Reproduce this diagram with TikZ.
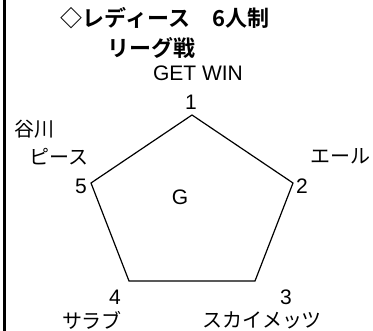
\documentclass[tikz,border=0pt]{standalone}
\usepackage{fontspec}
\setmainfont{Liberation Sans}
\newfontfamily\jp{Noto Sans CJK JP}
\newfontfamily\jpbold{Noto Sans CJK JP Bold}
\usetikzlibrary{positioning}

\begin{document}
\begin{tikzpicture}[x=1pt,y=-1pt,line width=1.2pt,
                    num/.style={inner sep=0pt, font=\fontsize{21}{21}\selectfont},
                    team/.style={inner sep=0pt, font=\fontsize{20}{20}\selectfont\jp},
                    ttl/.style={inner sep=0pt, font=\fontsize{22}{22}\selectfont\jpbold}]
  \useasboundingbox (0,0) rectangle (373,331);
  \draw[line width=3pt] (4,0) -- (4,331);

  \node[ttl] (title1) at (165,18) {◇レディース　6人制};
  \node[ttl] (title2) at (151,48) {リーグ戦};

  \coordinate (v1) at (192,115);
  \coordinate (v2) at (293,183);
  \coordinate (v3) at (255,281);
  \coordinate (v4) at (129,281);
  \coordinate (v5) at (91,183);
  \draw (v1) -- (v2) -- (v3) -- (v4) -- (v5) -- cycle;

  \node[num] (n1) at (191,102) {1};
  \node[num] (n2) at (302,186) {2};
  \node[num] (n3) at (286,297) {3};
  \node[num] (n4) at (115,297) {4};
  \node[num] (n5) at (81,186) {5};
  \node[num] (g) at (180,197) {G};

  \node[num] (t1) at (198,73) {GET WIN};
  \node[team] (t2) at (340,156) {エール};
  \node[team] (t3) at (262,320) {スカイメッツ};
  \node[team] (t4) at (92,320) {サラブ};
  \node[team] (t5a) at (35,129) {谷川};
  \node[team] (t5b) at (59,157) {ピース};
\end{tikzpicture}
\end{document}
